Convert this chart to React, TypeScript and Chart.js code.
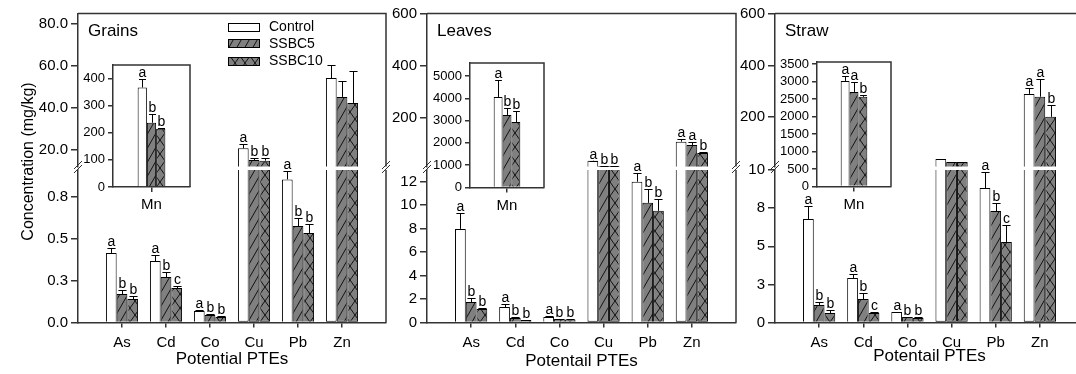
import React, { useEffect, useRef } from 'react';
import { Chart, registerables } from 'chart.js';

Chart.register(...registerables);
const FONT = "'Liberation Sans', Arial, Helvetica, sans-serif";
Chart.defaults.font.family = FONT;

// ---------------- data ----------------
const categories = ['As', 'Cd', 'Co', 'Cu', 'Pb', 'Zn'];
const seriesNames = ['Control', 'SSBC5', 'SSBC10'];
const insetCategories = ['Mn'];
const panelTitles = ['Grains', 'Leaves', 'Straw'];
const xAxisTitles = ['Potential PTEs', 'Potentail PTEs', 'Potentail PTEs'];
const yAxisTitle = 'Concentration (mg/kg)';

// Grains
const grainsControl = [0.414, 0.366, 0.068, 20.7, 0.852, 54.2];
const grainsControlErr = [0.03, 0.036, 0.004, 2.0, 0.05, 6.2];
const grainsSSBC5 = [0.17, 0.271, 0.045, 15.1, 0.574, 45.2];
const grainsSSBC5Err = [0.023, 0.03, 0.004, 1.1, 0.048, 7.6];
const grainsSSBC10 = [0.14, 0.205, 0.033, 14.8, 0.533, 42.3];
const grainsSSBC10Err = [0.018, 0.012, 0.004, 1.1, 0.053, 15.3];
const grainsControlLetters = ['a', 'a', 'a', 'a', 'a', ''];
const grainsSSBC5Letters = ['b', 'b', 'b', 'b', 'b', ''];
const grainsSSBC10Letters = ['b', 'c', 'b', 'b', 'b', ''];
const grainsMn = [367, 237, 215];
const grainsMnErr = [33, 33, 4];
const grainsMnLetters = ['a', 'b', 'b'];

// Leaves
const leavesControl = [7.98, 1.32, 0.47, 34.8, 12.0, 108];
const leavesControlErr = [1.37, 0.26, 0.05, 0.5, 0.77, 10.4];
const leavesSSBC5 = [1.75, 0.38, 0.3, 14.4, 10.2, 95.3];
const leavesSSBC5Err = [0.34, 0.05, 0.03, 0.3, 1.2, 12.7];
const leavesSSBC10 = [1.15, 0.21, 0.26, 14.4, 9.52, 64.5];
const leavesSSBC10Err = [0.1, 0.03, 0.03, 0.3, 1.03, 5.0];
const leavesControlLetters = ['a', 'a', 'a', 'a', 'a', 'a'];
const leavesSSBC5Letters = ['b', 'b', 'b', 'b', 'b', 'a'];
const leavesSSBC10Letters = ['b', 'b', 'b', 'b', 'b', 'b'];
const leavesMn = [4058, 3251, 2937];
const leavesMnErr = [763, 314, 493];
const leavesMnLetters = ['a', 'b', 'b'];

// Straw
const strawControl = [6.79, 2.92, 0.69, 39, 8.82, 290];
const strawControlErr = [0.85, 0.26, 0.03, 0, 1.05, 23];
const strawSSBC5 = [1.15, 1.54, 0.36, 27.4, 7.31, 279];
const strawSSBC5Err = [0.2, 0.39, 0.03, 0, 0.53, 70];
const strawSSBC10 = [0.62, 0.62, 0.3, 27.4, 5.28, 201.5];
const strawSSBC10Err = [0.2, 0.07, 0.03, 0, 1.11, 46];
const strawControlLetters = ['a', 'a', 'a', '', 'a', 'a'];
const strawSSBC5Letters = ['b', 'b', 'b', '', 'b', 'a'];
const strawSSBC10Letters = ['b', 'c', 'b', '', 'c', 'b'];
const strawMn = [3016, 2703, 2561];
const strawMnErr = [143, 285, 57];
const strawMnLetters = ['a', 'a', 'b'];

// axis ranges & tick values
const grainsUpperRange = [12, 85];
const grainsLowerRange = [0, 0.908];
const grainsUpperTicks = [20, 40, 60, 80];
const grainsLowerTicks = [0, 0.25, 0.5, 0.75];
const leavesUpperRange = [12.5, 600];
const leavesLowerRange = [0, 13];
const leavesUpperTicks = [200, 400, 600];
const leavesLowerTicks = [0, 2, 4, 6, 8, 10, 12];
const strawUpperRange = [10, 600];
const strawLowerRange = [0, 10];
const strawUpperTicks = [200, 400, 600];
const strawLowerTicks = [0, 2.5, 5, 7.5, 10];
const grainsInsetMax = 450;
const leavesInsetMax = 5580;
const strawInsetMax = 3557;
const grainsInsetTicks = [0, 100, 200, 300, 400];
const leavesInsetTicks = [0, 1000, 2000, 3000, 4000, 5000];
const strawInsetTicks = [0, 500, 1000, 1500, 2000, 2500, 3000, 3500];
const tickDigits = [1, 0, 0];

// ---------------- layout / style ----------------
const AX = '#333';
const CANVAS_W = 1100;
const CANVAS_H = 374;
const Y_AXIS_W = 60;
const PANEL_TOP = 13.5;
const UPPER_BOTTOM = 166.5;
const LOWER_TOP = 170;
const AXIS_BOTTOM = 322.5;
const X_AXIS_H = CANVAS_H - AXIS_BOTTOM;
const panelLeft = [78, 427, 775];
const panelRight = [386, 736, 1084];
const xTitlePad = [4.5, 2.3, 7.5];
const insetBoxes = [
  { left: 113, top: 65, right: 190, bottom: 187 },
  { left: 470, top: 63, right: 544, bottom: 187.5 },
  { left: 817, top: 62, right: 891, bottom: 186.5 },
];

interface Series { values: number[]; errs: number[]; letters: string[] }
interface Spec {
  area: { left: number; top: number; right: number; bottom: number };
  labels: string[];
  pad: number;
  series: Series[];
  mode: 'upper' | 'lower' | 'full';
  yMin: number; yMax: number; yTicks: number[]; yDigits: number;
  yFont: number; yTickLen: number;
  showX: boolean; xHeight: number; xFont: number; xPad: number;
  xTitle: string | null; xTitlePad: number;
  xOffset: boolean; catPct: number;
  topBorder: boolean; breakMarks: boolean;
  decor: ((c: any, fills: any[]) => void) | null;
}

function makePattern(kind: 'diag' | 'cross'): any {
  const c = document.createElement('canvas');
  const w = kind === 'diag' ? 8 : 10;
  const h = 14;
  c.width = w; c.height = h;
  const g = c.getContext('2d')!;
  g.fillStyle = '#808080';
  g.fillRect(0, 0, w, h);
  g.strokeStyle = '#111';
  g.lineWidth = 1;
  g.beginPath();
  for (const dx of [-w, 0, w]) {
    g.moveTo(dx, h); g.lineTo(dx + w, 0);
    if (kind === 'cross') { g.moveTo(dx, 0); g.lineTo(dx + w, h); }
  }
  g.stroke();
  return g.createPattern(c, 'repeat');
}

function drawPanelTitle(ctx: any, text: string, x: number) {
  ctx.save();
  ctx.fillStyle = '#000';
  ctx.font = `17px ${FONT}`;
  ctx.textAlign = 'left';
  ctx.textBaseline = 'middle';
  ctx.fillText(text, x, 31);
  ctx.restore();
}

function drawLegend(ctx: any, fills: any[], x: number) {
  const rows = [27.2, 43.8, 61.2];
  ctx.save();
  seriesNames.forEach((name, i) => {
    const y = rows[i];
    ctx.fillStyle = fills[i];
    ctx.fillRect(x, Math.round(y - 4.5), 32, 9);
    ctx.strokeStyle = '#000';
    ctx.lineWidth = 1;
    ctx.strokeRect(x + 0.5, Math.round(y - 4.5) + 0.5, 31, 8);
    ctx.fillStyle = '#000';
    ctx.font = `14px ${FONT}`;
    ctx.textAlign = 'left';
    ctx.textBaseline = 'middle';
    ctx.fillText(name, x + 41, y);
  });
  ctx.restore();
}

function drawYTitle(ctx: any) {
  ctx.save();
  ctx.translate(33, 161.5);
  ctx.rotate(-Math.PI / 2);
  ctx.fillStyle = '#000';
  ctx.font = `16px ${FONT}`;
  ctx.textAlign = 'center';
  ctx.textBaseline = 'alphabetic';
  ctx.fillText(yAxisTitle, 0, 0);
  ctx.restore();
}

function makeConfig(spec: Spec, fills: any[]): any {
  const { pad } = spec;
  const nulls = Array(pad).fill(null);
  const mapV = (v: number) =>
    spec.mode === 'upper' ? (v > spec.yMin ? v : null) : spec.mode === 'lower' ? Math.min(v, spec.yMax) : v;
  const shown = (v: number) =>
    spec.mode === 'upper' ? v > spec.yMin : spec.mode === 'lower' ? v <= spec.yMax : true;

  const datasets = spec.series.map((s, di) => ({
    label: seriesNames[di],
    data: [...nulls, ...s.values.map(mapV), ...nulls],
    backgroundColor: fills[di],
    borderColor: '#000',
    borderWidth: 1,
    borderSkipped: (ctx: any) => {
      const raw = s.values[ctx.dataIndex - pad];
      return spec.mode === 'lower' && raw > spec.yMax ? 'end' : 'start';
    },
    categoryPercentage: spec.catPct,
    barPercentage: 1,
  }));

  const errPlugin = {
    id: 'errbars',
    afterDatasetsDraw(chart: any) {
      const ctx = chart.ctx;
      const ys = chart.scales.y;
      ctx.save();
      ctx.strokeStyle = '#000';
      ctx.lineWidth = 1;
      ctx.fillStyle = '#000';
      ctx.font = `14px ${FONT}`;
      ctx.textAlign = 'center';
      ctx.textBaseline = 'alphabetic';
      spec.series.forEach((s, di) => {
        const meta = chart.getDatasetMeta(di);
        s.values.forEach((v, i) => {
          if (!shown(v)) return;
          const el = meta.data[i + pad];
          if (!el) return;
          const x = Math.round(el.x) + 0.5;
          const half = el.width * 0.38;
          const y0 = ys.getPixelForValue(v);
          const y1 = Math.round(ys.getPixelForValue(v + s.errs[i])) + 0.5;
          if (s.errs[i] > 0) {
            ctx.beginPath();
            ctx.moveTo(x, y0);
            ctx.lineTo(x, y1);
            ctx.moveTo(x - half, y1);
            ctx.lineTo(x + half, y1);
            ctx.stroke();
          }
          if (s.letters[i]) ctx.fillText(s.letters[i], x, y1 - 3);
        });
      });
      ctx.restore();
    },
  };

  const framePlugin = {
    id: 'frame',
    afterDraw(chart: any) {
      const ctx = chart.ctx;
      const { left, top, right, bottom } = chart.chartArea;
      ctx.save();
      ctx.strokeStyle = AX;
      ctx.lineWidth = 1.5;
      ctx.beginPath();
      if (spec.topBorder) {
        ctx.moveTo(left, top);
        ctx.lineTo(right + 0.75, top);
      }
      ctx.moveTo(right, top);
      ctx.lineTo(right, bottom);
      ctx.stroke();
      if (spec.breakMarks) {
        ctx.lineWidth = 1;
        ctx.beginPath();
        for (const x of [left, right]) {
          for (const yc of [top - 5, top - 1]) {
            ctx.moveTo(x - 4, yc + 4);
            ctx.lineTo(x + 4, yc - 4);
          }
        }
        ctx.stroke();
      }
      ctx.restore();
      if (spec.decor) spec.decor(chart, fills);
    },
  };

  const labels = spec.labels;
  return {
    type: 'bar',
    data: { labels, datasets },
    options: {
      responsive: false,
      animation: false,
      devicePixelRatio: 1,
      events: [],
      layout: {
        padding: {
          left: spec.area.left - Y_AXIS_W,
          top: spec.area.top,
          right: CANVAS_W - spec.area.right,
          bottom: CANVAS_H - spec.area.bottom - (spec.showX ? spec.xHeight : 0),
        },
      },
      plugins: { legend: { display: false }, tooltip: { enabled: false }, title: { display: false } },
      scales: {
        x: {
          type: 'category',
          offset: spec.xOffset,
          display: spec.showX,
          afterFit: (s: any) => { s.height = spec.showX ? spec.xHeight : 0; },
          ticks: {
            autoSkip: false, maxRotation: 0, minRotation: 0,
            font: { size: spec.xFont }, color: '#000', padding: spec.xPad,
          },
          grid: {
            offset: false, drawOnChartArea: false, drawTicks: true, tickLength: 5,
            color: AX, lineWidth: 1.5,
            tickColor: (c: any) => (labels[c.index] === '' ? 'rgba(0,0,0,0)' : AX),
          },
          border: { display: true, color: AX, width: 1.5 },
          title: spec.xTitle
            ? { display: true, text: spec.xTitle, color: '#000', font: { size: 17 }, padding: { top: 0, bottom: spec.xTitlePad } }
            : { display: false },
        },
        y: {
          type: 'linear',
          min: spec.yMin,
          max: spec.yMax,
          afterFit: (s: any) => { s.width = Y_AXIS_W; },
          afterBuildTicks: (s: any) => { s.ticks = spec.yTicks.map((v) => ({ value: v })); },
          ticks: {
            autoSkip: false,
            font: { size: spec.yFont }, color: '#000', padding: 3,
            callback: (v: any) => Number(v).toFixed(spec.yDigits),
          },
          grid: { drawOnChartArea: false, drawTicks: true, tickLength: spec.yTickLen, color: AX, lineWidth: 1.5 },
          border: { display: true, color: AX, width: 1.5 },
        },
      },
    },
    plugins: [errPlugin, framePlugin],
  };
}

function buildSpecs(): Spec[] {
  const panels = [
    {
      series: [
        { values: grainsControl, errs: grainsControlErr, letters: grainsControlLetters },
        { values: grainsSSBC5, errs: grainsSSBC5Err, letters: grainsSSBC5Letters },
        { values: grainsSSBC10, errs: grainsSSBC10Err, letters: grainsSSBC10Letters },
      ],
      upper: grainsUpperRange, lower: grainsLowerRange, upperTicks: grainsUpperTicks, lowerTicks: grainsLowerTicks,
      mn: { values: grainsMn, errs: grainsMnErr, letters: grainsMnLetters }, insetMax: grainsInsetMax, insetTicks: grainsInsetTicks,
    },
    {
      series: [
        { values: leavesControl, errs: leavesControlErr, letters: leavesControlLetters },
        { values: leavesSSBC5, errs: leavesSSBC5Err, letters: leavesSSBC5Letters },
        { values: leavesSSBC10, errs: leavesSSBC10Err, letters: leavesSSBC10Letters },
      ],
      upper: leavesUpperRange, lower: leavesLowerRange, upperTicks: leavesUpperTicks, lowerTicks: leavesLowerTicks,
      mn: { values: leavesMn, errs: leavesMnErr, letters: leavesMnLetters }, insetMax: leavesInsetMax, insetTicks: leavesInsetTicks,
    },
    {
      series: [
        { values: strawControl, errs: strawControlErr, letters: strawControlLetters },
        { values: strawSSBC5, errs: strawSSBC5Err, letters: strawSSBC5Letters },
        { values: strawSSBC10, errs: strawSSBC10Err, letters: strawSSBC10Letters },
      ],
      upper: strawUpperRange, lower: strawLowerRange, upperTicks: strawUpperTicks, lowerTicks: strawLowerTicks,
      mn: { values: strawMn, errs: strawMnErr, letters: strawMnLetters }, insetMax: strawInsetMax, insetTicks: strawInsetTicks,
    },
  ];
  const mainLabels = ['', ...categories, ''];
  const specs: Spec[] = [];
  panels.forEach((p, pi) => {
    const left = panelLeft[pi];
    const right = panelRight[pi];
    const base = {
      labels: mainLabels, pad: 1, series: p.series,
      yFont: 15, yTickLen: 7, xFont: 15, xPad: 6, xHeight: X_AXIS_H,
      xOffset: false, catPct: 0.73, yDigits: tickDigits[pi], xTitlePad: xTitlePad[pi],
    };
    specs.push({
      ...base,
      area: { left, top: PANEL_TOP, right, bottom: UPPER_BOTTOM },
      mode: 'upper', yMin: p.upper[0], yMax: p.upper[1], yTicks: p.upperTicks,
      showX: false, xTitle: null, topBorder: true, breakMarks: false,
      decor: (chart: any, fills: any[]) => {
        drawPanelTitle(chart.ctx, panelTitles[pi], left + 10);
        if (pi === 0) {
          drawLegend(chart.ctx, fills, left + 150);
          drawYTitle(chart.ctx);
        }
      },
    });
    specs.push({
      ...base,
      area: { left, top: LOWER_TOP, right, bottom: AXIS_BOTTOM },
      mode: 'lower', yMin: p.lower[0], yMax: p.lower[1], yTicks: p.lowerTicks,
      showX: true, xTitle: xAxisTitles[pi], topBorder: false, breakMarks: true, decor: null,
    });
    const ib = insetBoxes[pi];
    specs.push({
      area: ib, labels: insetCategories, pad: 0,
      series: [0, 1, 2].map((k) => ({ values: [p.mn.values[k]], errs: [p.mn.errs[k]], letters: [p.mn.letters[k]] })),
      mode: 'full', yMin: 0, yMax: p.insetMax, yTicks: p.insetTicks, yDigits: 0,
      yFont: 13, yTickLen: 5, showX: true, xHeight: 30, xFont: 15, xPad: 4,
      xTitle: null, xTitlePad: 0, xOffset: true, catPct: 0.36,
      topBorder: true, breakMarks: false, decor: null,
    });
  });
  return specs;
}

export default function App() {
  const refs = useRef<(HTMLCanvasElement | null)[]>([]);
  const N = 9;
  useEffect(() => {
    const fills = ['#ffffff', makePattern('diag'), makePattern('cross')];
    const specs = buildSpecs();
    const charts = specs.map((spec, i) => new Chart(refs.current[i] as HTMLCanvasElement, makeConfig(spec, fills)));
    return () => charts.forEach((c) => c.destroy());
  }, []);
  return (
    <div
      style={{
        position: 'absolute', left: 0, top: 0, width: 1076, height: 374,
        overflow: 'hidden', background: '#ffffff',
      }}
    >
      {Array.from({ length: N }).map((_, i) => (
        <canvas
          key={i}
          ref={(el) => { refs.current[i] = el; }}
          width={CANVAS_W}
          height={CANVAS_H}
          style={{ position: 'absolute', left: 0, top: 0, width: CANVAS_W, height: CANVAS_H }}
        />
      ))}
    </div>
  );
}
